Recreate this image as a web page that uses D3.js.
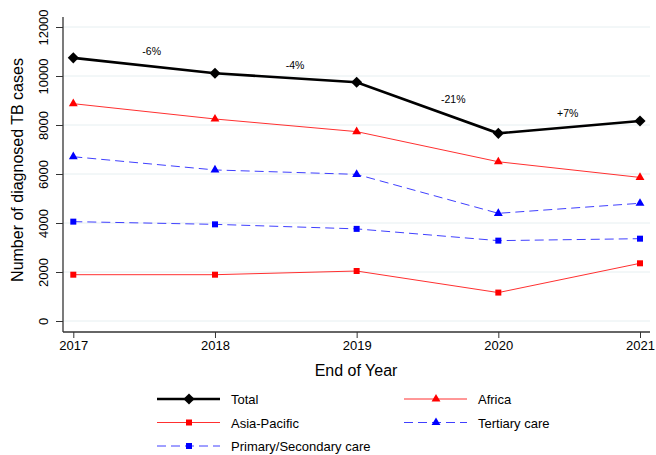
<!DOCTYPE html>
<html>
<head>
<meta charset="utf-8">
<script src="https://cdn.jsdelivr.net/npm/d3@7"></script>
<style>
  body { margin: 0; background: #fff; }
  text { font-family: Arial, "Liberation Sans", sans-serif; fill: #000; }
</style>
</head>
<body>
<div id="chart"></div>
<script>
// data
var years = [2017, 2018, 2019, 2020, 2021];
var total = [10740, 10110, 9745, 7660, 8165];
var africa = [8870, 8245, 7730, 6500, 5860];
var asiaPacific = [1890, 1890, 2040, 1160, 2355];
var tertiary = [6705, 6165, 5985, 4395, 4805];
var primary = [4055, 3945, 3760, 3280, 3360];
var changeLabels = ["-6%", "-4%", "-21%", "+7%"];
var yTicks = [0, 2000, 4000, 6000, 8000, 10000, 12000];

var width = 656,
    height = 455;

var x = d3.scaleLinear().domain([2017, 2021]).range([73.3, 640]);
var y = d3.scaleLinear().domain([0, 12000]).range([321, 27]);

var svg = d3.select("#chart").append("svg")
    .attr("width", width)
    .attr("height", height);

// grid lines
svg.selectAll(".grid")
    .data(yTicks)
    .enter()
    .append("line")
    .attr("x1", 63)
    .attr("x2", 650)
    .attr("y1", function (d) { return y(d); })
    .attr("y2", function (d) { return y(d); })
    .attr("stroke", "#e6eff1")
    .attr("stroke-width", 1);

// axes
var yAxis = svg.append("g")
    .attr("transform", "translate(63,0)")
    .call(d3.axisLeft(y).tickValues(yTicks).tickSize(7).tickFormat(d3.format("d")));
yAxis.select(".domain").attr("d", "M0,17V332").attr("stroke", "#333").attr("stroke-width", 1.3);
yAxis.selectAll(".tick line").attr("stroke", "#333");
yAxis.selectAll(".tick text")
    .attr("transform", "rotate(-90)")
    .attr("x", 0)
    .attr("y", -15)
    .attr("dy", 0)
    .attr("text-anchor", "middle")
    .style("font-size", "13px");

var xAxis = svg.append("g")
    .attr("transform", "translate(0,332)")
    .call(d3.axisBottom(x).tickValues(years).tickSize(6).tickFormat(d3.format("d")));
xAxis.select(".domain").attr("d", "M63,0H650").attr("stroke", "#333").attr("stroke-width", 1.3);
xAxis.selectAll(".tick line").attr("stroke", "#333");
xAxis.selectAll(".tick text")
    .attr("y", 9)
    .style("font-size", "13px");

svg.append("text")
    .attr("transform", "translate(23,170)rotate(-90)")
    .attr("text-anchor", "middle")
    .style("font-size", "16px")
    .text("Number of diagnosed TB cases");

svg.append("text")
    .attr("x", 356)
    .attr("y", 376)
    .attr("text-anchor", "middle")
    .style("font-size", "16px")
    .text("End of Year");

// series
var series = [
    {name: "Total", values: total, color: "#000", lineColor: "#000", width: 2.6, dash: null, symbol: d3.symbolSquare, size: 62, rot: 45},
    {name: "Africa", values: africa, color: "#ff0000", lineColor: "#ff3030", width: 1, dash: null, symbol: d3.symbolTriangle, size: 34, rot: 0},
    {name: "Asia-Pacific", values: asiaPacific, color: "#ff0000", lineColor: "#ff3030", width: 1, dash: null, symbol: d3.symbolSquare, size: 36, rot: 0},
    {name: "Tertiary care", values: tertiary, color: "#0000ff", lineColor: "#4040ff", width: 1, dash: "9,5", symbol: d3.symbolTriangle, size: 34, rot: 0},
    {name: "Primary/Secondary care", values: primary, color: "#0000ff", lineColor: "#4040ff", width: 1, dash: "9,5", symbol: d3.symbolSquare, size: 36, rot: 0}
];

var line = d3.line()
    .x(function (d, i) { return x(years[i]); })
    .y(function (d) { return y(d); });

var drawOrder = [4, 3, 2, 1, 0];
drawOrder.forEach(function (k) {
    var s = series[k];
    var g = svg.append("g");
    g.append("path")
        .attr("d", line(s.values))
        .attr("fill", "none")
        .attr("stroke", s.lineColor)
        .attr("stroke-width", s.width)
        .attr("stroke-dasharray", s.dash);
    g.selectAll("path.marker")
        .data(s.values)
        .enter()
        .append("path")
        .attr("class", "marker")
        .attr("transform", function (d, i) {
            return "translate(" + x(years[i]) + "," + y(d) + ")rotate(" + s.rot + ")";
        })
        .attr("d", d3.symbol().type(s.symbol).size(s.size))
        .attr("fill", s.color);
});

// percent change labels between total points
var labelPos = [[151.7, 51.7], [295, 65.7], [453.3, 99], [567.7, 113.3]];
svg.selectAll(".change")
    .data(changeLabels)
    .enter()
    .append("text")
    .attr("x", function (d, i) { return labelPos[i][0]; })
    .attr("y", function (d, i) { return labelPos[i][1] + 3.5; })
    .attr("text-anchor", "middle")
    .style("font-size", "10.5px")
    .text(function (d) { return d; });

// legend
var legendPos = [[157, 399], [404, 399], [157, 422.5], [404, 422.5], [157, 446]];
series.forEach(function (s, i) {
    var p = legendPos[i];
    var g = svg.append("g").attr("transform", "translate(" + p[0] + "," + p[1] + ")");
    g.append("line")
        .attr("x1", 0).attr("x2", 63)
        .attr("stroke", s.lineColor)
        .attr("stroke-width", s.width)
        .attr("stroke-dasharray", s.dash);
    g.append("path")
        .attr("transform", "translate(32,0)rotate(" + s.rot + ")")
        .attr("d", d3.symbol().type(s.symbol).size(s.size))
        .attr("fill", s.color);
    g.append("text")
        .attr("x", 74)
        .attr("y", 5)
        .style("font-size", "13px")
        .text(s.name);
});
</script>
</body>
</html>
